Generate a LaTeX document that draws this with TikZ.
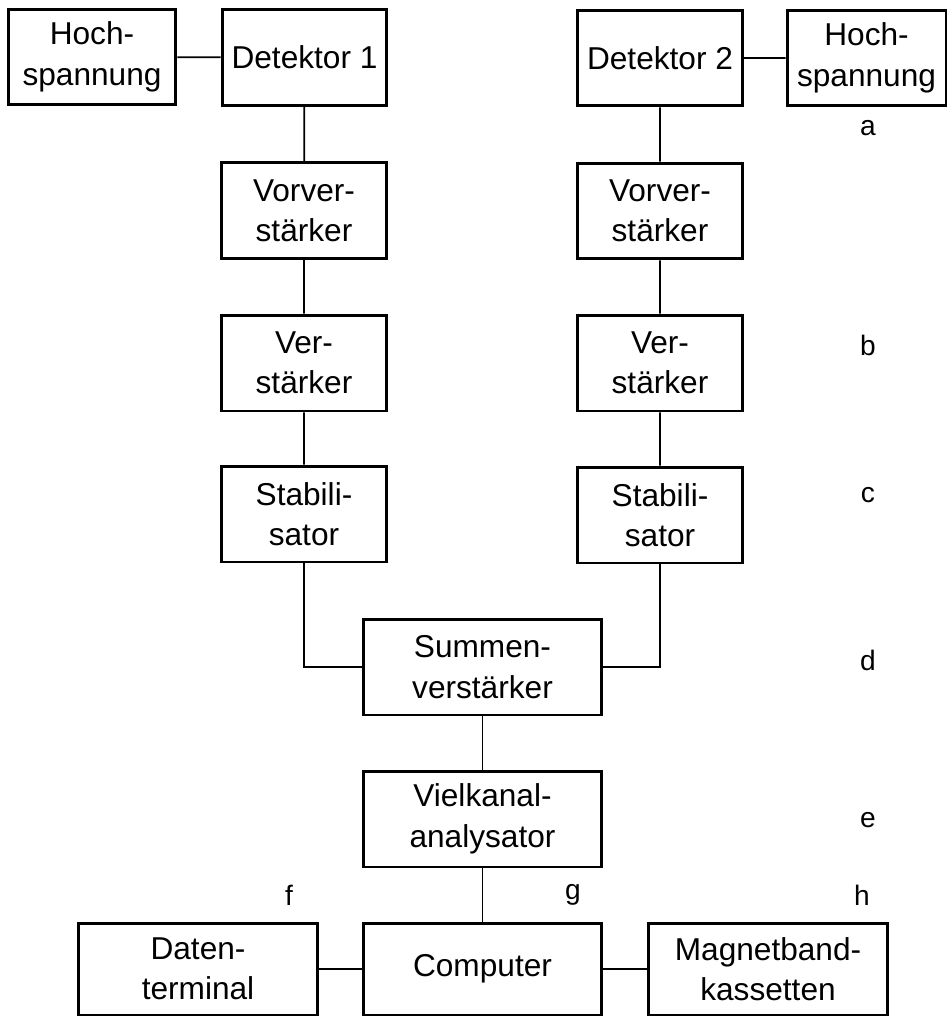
\documentclass[tikz,border=0pt]{standalone}
\usepackage{fontspec}
\setmainfont{Liberation Sans}
\usepackage{tikz}
\usetikzlibrary{arrows.meta}

\tikzset{
  block/.style={draw,line width=1.7pt,align=center,inner sep=0pt,
    minimum width=3.3cm,minimum height=1.92cm,font=\fontsize{18}{23}\selectfont},
  wide/.style={block,minimum width=4.78cm},
  link/.style={line width=1pt},
  letter/.style={font=\fontsize{16}{18}\selectfont}
}

\begin{document}
\begin{tikzpicture}[x=0.02cm,y=-0.02cm]
\useasboundingbox (0,0) rectangle (947,1017);
% two detector chains
\node[block,minimum width=3.36cm] (hs1) at (92,57) {Hoch-\\spannung};
\node[block] (det1) at (304.5,57.5) {Detektor 1};
\node[block] (det2) at (660,58) {Detektor 2};
\node[block,minimum width=3.18cm] (hs2) at (866.5,58) {Hoch-\\spannung};
\node[block] (vv1) at (304,210.5) {Vorver-\\stärker};
\node[block] (vv2) at (660,211) {Vorver-\\stärker};
\node[block] (vs1) at (304,363) {Ver-\\stärker};
\node[block] (vs2) at (660,363) {Ver-\\stärker};
\node[block] (st1) at (304,514) {Stabili-\\sator};
\node[block] (st2) at (660,515) {Stabili-\\sator};
% common part
\node[wide] (sum) at (482.5,667) {Summen-\\verstärker};
\node[wide] (vka) at (482.5,819) {Vielkanal-\\analysator};
\node[wide,minimum height=1.84cm] (com) at (482.5,969) {Computer};
\node[wide,minimum height=1.84cm] (dat) at (198,969) {Daten-\\terminal};
\node[wide,minimum height=1.84cm] (mag) at (768,969) {Magnetband-\\kassetten};
\draw[link] (hs1)--(det1) (det2)--(hs2);
\draw[link] (det1)--(vv1)--(vs1)--(st1)
(det2)--(vv2)--(vs2)--(st2);
\draw[link] (st1.south)|-(sum.west) (st2.south)|-(sum.east);
\draw[link] (sum)--(vka)--(com);
\draw[link] (dat)--(com)--(mag);
\path[letter] (868,128)node(la){a}
(868,345)node(lb){b}
(868,495)node(lc){c}
(868,660)node(ld){d}
(868,820)node(le){e}
(289,895)node(lf){f}
(573,895)node(lg){g}
(862,895)node(lh){h};
\end{tikzpicture}
\end{document}
